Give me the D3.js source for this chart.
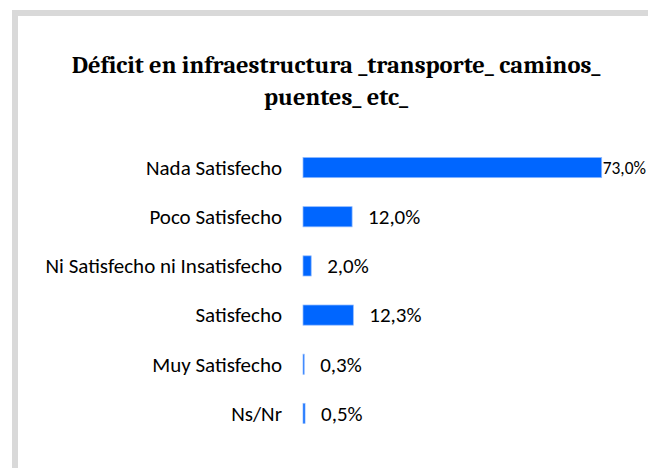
<!DOCTYPE html>
<html>
<head>
<meta charset="utf-8">
<script src="https://cdn.jsdelivr.net/npm/d3@7"></script>
<style>
  html, body { margin: 0; padding: 0; background: #fff; }
  svg { display: block; }
</style>
</head>
<body>
<div id="chart"></div>
<script>
const categories = ["Nada Satisfecho", "Poco Satisfecho", "Ni Satisfecho ni Insatisfecho", "Satisfecho", "Muy Satisfecho", "Ns/Nr"];
const values = [73.0, 12.0, 2.0, 12.3, 0.3, 0.5];
const valueLabels = ["73,0%", "12,0%", "2,0%", "12,3%", "0,3%", "0,5%"];
const titleLines = ["Déficit en infraestructura _transporte_ caminos_", "puentes_ etc_"];

const width = 648, height = 468;
const labelFont = "Carlito, Calibri, 'Open Sans', sans-serif";

const svg = d3.select("#chart").append("svg")
  .attr("width", width)
  .attr("height", height);

// chart frame (grey border, clipped on right/bottom)
svg.append("rect")
  .attr("x", 15).attr("y", 13)
  .attr("width", 800).attr("height", 600)
  .attr("fill", "#fff")
  .attr("stroke", "#d9d9d9")
  .attr("stroke-width", 6);

// title
svg.append("text")
  .attr("x", 336)
  .attr("text-anchor", "middle")
  .attr("font-family", "Cambria, 'Liberation Serif', 'DejaVu Serif', serif")
  .attr("font-weight", "bold")
  .attr("font-size", 24.5)
  .attr("fill", "#000")
  .selectAll("tspan")
  .data(titleLines)
  .enter().append("tspan")
  .attr("x", 336)
  .attr("y", (d, i) => 73 + i * 32)
  .text(d => d);

const x = d3.scaleLinear().domain([0, 73]).range([303, 601.7]);
const y = d3.scaleBand().domain(categories).range([143, 438]).paddingInner(0.59).paddingOuter(0.295);

svg.selectAll("rect.bar")
  .data(values)
  .enter().append("rect")
  .attr("class", "bar")
  .attr("x", x(0))
  .attr("y", (d, i) => y(categories[i]))
  .attr("width", d => x(d) - x(0))
  .attr("height", y.bandwidth())
  .attr("fill", "#0066ff")
  .attr("stroke", "#8fbaff")
  .attr("stroke-width", 0.75);

// category labels
svg.selectAll("text.cat")
  .data(categories)
  .enter().append("text")
  .attr("class", "cat")
  .attr("x", 282)
  .attr("y", d => y(d) + y.bandwidth() / 2)
  .attr("dy", "0.35em")
  .attr("text-anchor", "end")
  .attr("font-family", labelFont)
  .attr("font-size", 21)
  .attr("fill", "#000")
  .text(d => d);

// value labels: 16px after the bar; near the right edge put right after the bar and shrink to fit
svg.selectAll("text.val")
  .data(values)
  .enter().append("text")
  .attr("class", "val")
  .attr("y", (d, i) => y(categories[i]) + y.bandwidth() / 2)
  .attr("dy", "0.35em")
  .attr("font-family", labelFont)
  .attr("font-size", 21)
  .attr("fill", "#000")
  .text((d, i) => valueLabels[i])
  .each(function (d) {
    const t = d3.select(this);
    const w = this.getComputedTextLength();
    let lx = x(d) + 16;
    if (lx + w > width - 2) {
      lx = x(d) + 1;
      const room = width - 2 - lx;
      if (w > room) t.attr("font-size", Math.floor(21 * room / w * 10) / 10);
    }
    t.attr("x", lx);
  });
</script>
</body>
</html>
